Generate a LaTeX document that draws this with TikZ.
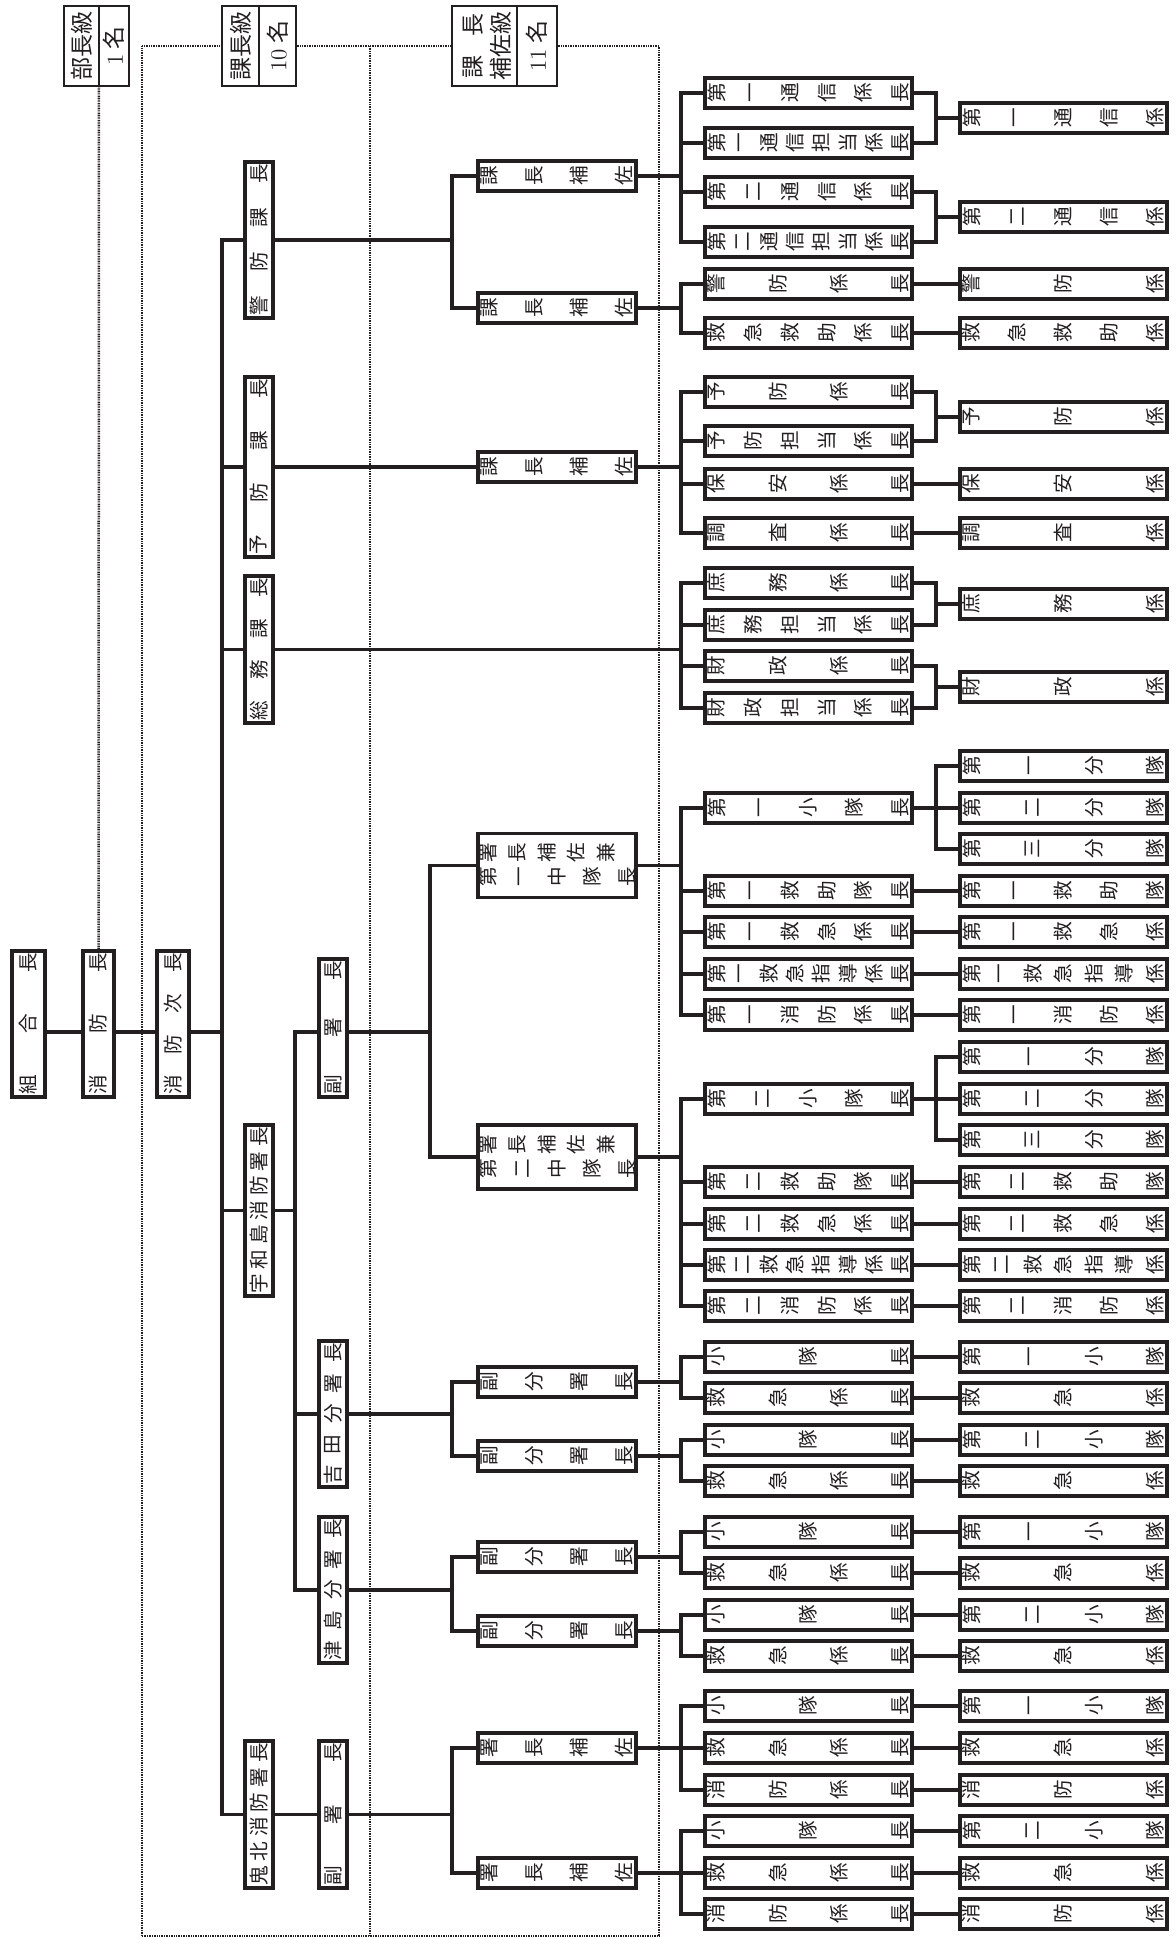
\documentclass[tikz,border=0pt]{standalone}
\usepackage{fontspec}
\newfontfamily\cjk{Noto Sans CJK JP}
\definecolor{ink}{RGB}{35,31,32}
\tikzset{
 bx/.style={draw=ink, line width=1.85pt, inner sep=0pt, fill=white},
 hb/.style={draw=ink, line width=0.75pt, inner sep=0pt, fill=white},
 hbl/.style={draw=ink, line width=0.75pt},
 ln/.style={draw=ink, line width=1.55pt, line cap=rect},
 dl/.style={draw=ink, line width=1.25pt, dash pattern=on 0.45pt off 0.4pt},
 chr/.style={inner sep=0pt, rotate=90, text=ink, font=\cjk\fontsize{9.8pt}{10pt}\selectfont},
 hch/.style={inner sep=0pt, rotate=90, text=ink, font=\cjk\fontsize{11.5pt}{12pt}\selectfont},
}
% wide box: name, x0, x1, yc, chars (left to right)
\newcommand\WB[5]{%
 \pgfmathsetmacro\wbw{(#3-#2-3.5)*0.5}%
 \node[bx, minimum width=\wbw pt, minimum height=15.3pt] (#1) at ({(#2+#3)/2},#4) {};%
 \foreach \ch [count=\ci] in {#5} {\xdef\nch{\ci}}%
 \foreach \ch [count=\ci] in {#5} {%
  \pgfmathsetmacro\cx{#2+13.5+(\ci-1)*(#3-#2-27.5)/(\nch-1)}%
  \node[chr] at (\cx,#4) {\ch};}%
}
% tall box: name, x0, x1, y0, y1, chars (bottom to top)
\newcommand\TB[6]{%
 \pgfmathsetmacro\tbw{(#3-#2-3.5)*0.5}\pgfmathsetmacro\tbh{(#5-#4-3.5)*0.5}%
 \node[bx, minimum width=\tbw pt, minimum height=\tbh pt] (#1) at ({(#2+#3)/2},{(#4+#5)/2}) {};%
 \foreach \ch [count=\ci] in {#6} {\xdef\nch{\ci}}%
 \foreach \ch [count=\ci] in {#6} {%
  \pgfmathsetmacro\cy{#5-14-(\ci-1)*(#5-#4-28)/(\nch-1)}%
  \node[chr] at ({(#2+#3)/2},\cy) {\ch};}%
}
\newcommand\LS[2]{\draw[ln] (#1.west) -- (#1.west -| #2);}
\newcommand\RS[2]{\draw[ln] (#1.east) -- (#1.east -| #2);}
\newcommand\LB[3]{\draw[ln] (#1.west -| #3) -- (#2.west -| #3);}
\newcommand\DR[2]{\draw[ln] (#1.east) -- (#1.east -| #2.west);}
\newcommand\MG[3]{\draw[ln] (#1.east) -- (#1.east -| b5) -- (#2.east -| b5) -- (#2.east); \draw[ln] (#3.west) -- (#3.west -| b5);}
\newcommand\SP[4]{\draw[ln] (#2.west) -- (#2.west -| b5) -- (#4.west -| b5) -- (#4.west); \draw[ln] (#1.east) -- (#1.east -| #3.west);}
\begin{document}
\begin{tikzpicture}[x=0.5pt,y=-0.5pt]
\useasboundingbox (0,0) rectangle (1175,1939);
\fill[white] (0,0) rectangle (1175,1939);
% bus coordinates
\coordinate (tx) at (222,0);
\coordinate (b2) at (295,0);
\coordinate (b3a) at (430,0);
\coordinate (b3) at (452,0);
\coordinate (b4) at (681,0);
\coordinate (b5) at (936,0);
\coordinate (ml) at (0,1032);
% dotted frame
\coordinate (fl) at (142,46);
\coordinate (fm) at (370,46);
\coordinate (fr) at (659,46);
\coordinate (gl) at (142,1936);
\coordinate (gm) at (370,1936);
\coordinate (gr) at (659,1936);
\coordinate (bdiv) at (99,86);
% header boxes
\node[hb, minimum width=32.5pt, minimum height=40pt] (bucho) at (96.5,46) {};
\node[hb, minimum width=37pt, minimum height=40pt] (kacho) at (259,46) {};
\node[hb, minimum width=52.5pt, minimum height=40pt] (hosa) at (504.5,46) {};
\draw[hbl] (bucho.north -| bdiv) -- (bdiv);
\draw[hbl] (kacho.north) -- (kacho.south);
\draw[hbl] (517,6) -- (517,86);
\node[hch] at (81.5,46) {部長級};
\node[hch] at (114,46) {{\rmfamily 1}\ 名};
\node[hch] at (240.5,46) {課長級};
\node[hch] at (277.5,46) {{\rmfamily 10}\ 名};
\node[hch] at (473,67) {課};
\node[hch] at (473,25) {長};
\node[hch] at (501,46) {補佐級};
\node[hch] at (537,46) {{\rmfamily 11}\ 名};
\draw[dl] (gl) -- (fl) -- (kacho.west);
\draw[dl] (kacho.east) -- (hosa.west);
\draw[dl] (hosa.east) -- (fr) -- (gr) -- (gl);
\draw[dl] (fm) -- (gm);
% column A
\TB{kumi}{10}{47}{949}{1099}{組,合,長}
\TB{shobo}{81}{116}{949}{1099}{消,防,長}
\TB{jicho}{155}{191}{949}{1099}{消,防,次,長}
\draw[dl] (bdiv) -- (shobo.north);
% column B
\TB{keibo}{243}{275}{160}{320}{警,防,課,長}
\TB{yobo}{243}{275}{375}{559}{予,防,課,長}
\TB{somu}{243}{275}{574}{725}{総,務,課,長}
\TB{uwa}{243}{275}{1123}{1298}{宇,和,島,消,防,署,長}
\TB{kihoku}{243}{275}{1739}{1890}{鬼,北,消,防,署,長}
% column C
\TB{fuku1}{317}{349}{957}{1099}{副,署,長}
\TB{yosh}{317}{349}{1339}{1489}{吉,田,分,署,長}
\TB{tsu}{317}{349}{1515}{1665}{津,島,分,署,長}
\TB{fuku2}{317}{349}{1739}{1890}{副,署,長}
% column D
\WB{kh1}{476}{638}{176}{課,長,補,佐}
\WB{kh2}{476}{638}{308}{課,長,補,佐}
\WB{kh3}{476}{638}{467}{課,長,補,佐}
\node[bx, minimum width=79.2pt, minimum height=32pt] (ch1) at (557,865.5) {};
\foreach \ch [count=\ci] in {署,長,補,佐,兼} {\node[chr] at ({488+(\ci-1)*29.5},853) {\ch};}
\foreach \ch [count=\ci] in {第,一,中,隊,長} {\node[chr] at ({488+(\ci-1)*34.75},877) {\ch};}
\node[bx, minimum width=79.2pt, minimum height=32pt] (ch2) at (557,1157) {};
\foreach \ch [count=\ci] in {署,長,補,佐,兼} {\node[chr] at ({488+(\ci-1)*29.5},1144.5) {\ch};}
\foreach \ch [count=\ci] in {第,二,中,隊,長} {\node[chr] at ({488+(\ci-1)*34.75},1168.5) {\ch};}
\WB{fb1}{476}{638}{1382}{副,分,署,長}
\WB{fb2}{476}{638}{1456}{副,分,署,長}
\WB{fb3}{476}{638}{1557}{副,分,署,長}
\WB{fb4}{476}{638}{1631}{副,分,署,長}
\WB{sh1}{476}{638}{1748}{署,長,補,佐}
\WB{sh2}{476}{638}{1873}{署,長,補,佐}
% column E
\WB{e1}{703}{914}{93}{第,一,通,信,係,長}
\WB{e2}{703}{914}{143}{第,一,通,信,担,当,係,長}
\WB{e3}{703}{914}{192}{第,二,通,信,係,長}
\WB{e4}{703}{914}{242}{第,二,通,信,担,当,係,長}
\WB{e5}{703}{914}{284}{警,防,係,長}
\WB{e6}{703}{914}{333}{救,急,救,助,係,長}
\WB{e7}{703}{914}{392}{予,防,係,長}
\WB{e8}{703}{914}{441}{予,防,担,当,係,長}
\WB{e9}{703}{914}{484}{保,安,係,長}
\WB{e10}{703}{914}{533}{調,査,係,長}
\WB{e11}{703}{914}{583}{庶,務,係,長}
\WB{e12}{703}{914}{625}{庶,務,担,当,係,長}
\WB{e13}{703}{914}{666}{財,政,係,長}
\WB{e14}{703}{914}{708}{財,政,担,当,係,長}
\WB{e15}{703}{914}{808}{第,一,小,隊,長}
\WB{e16}{703}{914}{891}{第,一,救,助,隊,長}
\WB{e17}{703}{914}{932}{第,一,救,急,係,長}
\WB{e18}{703}{914}{974}{第,一,救,急,指,導,係,長}
\WB{e19}{703}{914}{1015}{第,一,消,防,係,長}
\WB{e20}{703}{914}{1099}{第,二,小,隊,長}
\WB{e21}{703}{914}{1182}{第,二,救,助,隊,長}
\WB{e22}{703}{914}{1224}{第,二,救,急,係,長}
\WB{e23}{703}{914}{1265}{第,二,救,急,指,導,係,長}
\WB{e24}{703}{914}{1306}{第,二,消,防,係,長}
\WB{e25}{703}{914}{1357}{小,隊,長}
\WB{e26}{703}{914}{1398}{救,急,係,長}
\WB{e27}{703}{914}{1440}{小,隊,長}
\WB{e28}{703}{914}{1481}{救,急,係,長}
\WB{e29}{703}{914}{1532}{小,隊,長}
\WB{e30}{703}{914}{1573}{救,急,係,長}
\WB{e31}{703}{914}{1615}{小,隊,長}
\WB{e32}{703}{914}{1656}{救,急,係,長}
\WB{e33}{703}{914}{1706}{小,隊,長}
\WB{e34}{703}{914}{1748}{救,急,係,長}
\WB{e35}{703}{914}{1790}{消,防,係,長}
\WB{e36}{703}{914}{1831}{小,隊,長}
\WB{e37}{703}{914}{1873}{救,急,係,長}
\WB{e38}{703}{914}{1914}{消,防,係,長}
% column F
\WB{f1}{958}{1169}{118}{第,一,通,信,係}
\WB{f2}{958}{1169}{217}{第,二,通,信,係}
\WB{f3}{958}{1169}{284}{警,防,係}
\WB{f4}{958}{1169}{333}{救,急,救,助,係}
\WB{f5}{958}{1169}{417}{予,防,係}
\WB{f6}{958}{1169}{484}{保,安,係}
\WB{f7}{958}{1169}{533}{調,査,係}
\WB{f8}{958}{1169}{604}{庶,務,係}
\WB{f9}{958}{1169}{687}{財,政,係}
\WB{f10}{958}{1169}{766}{第,一,分,隊}
\WB{f11}{958}{1169}{808}{第,二,分,隊}
\WB{f12}{958}{1169}{849}{第,三,分,隊}
\WB{f13}{958}{1169}{891}{第,一,救,助,隊}
\WB{f14}{958}{1169}{932}{第,一,救,急,係}
\WB{f15}{958}{1169}{974}{第,一,救,急,指,導,係}
\WB{f16}{958}{1169}{1015}{第,一,消,防,係}
\WB{f17}{958}{1169}{1057}{第,一,分,隊}
\WB{f18}{958}{1169}{1099}{第,二,分,隊}
\WB{f19}{958}{1169}{1140}{第,三,分,隊}
\WB{f20}{958}{1169}{1182}{第,二,救,助,隊}
\WB{f21}{958}{1169}{1224}{第,二,救,急,係}
\WB{f22}{958}{1169}{1265}{第,二,救,急,指,導,係}
\WB{f23}{958}{1169}{1306}{第,二,消,防,係}
\WB{f24}{958}{1169}{1357}{第,一,小,隊}
\WB{f25}{958}{1169}{1398}{救,急,係}
\WB{f26}{958}{1169}{1440}{第,二,小,隊}
\WB{f27}{958}{1169}{1481}{救,急,係}
\WB{f28}{958}{1169}{1532}{第,一,小,隊}
\WB{f29}{958}{1169}{1573}{救,急,係}
\WB{f30}{958}{1169}{1615}{第,二,小,隊}
\WB{f31}{958}{1169}{1656}{救,急,係}
\WB{f32}{958}{1169}{1706}{第,一,小,隊}
\WB{f33}{958}{1169}{1748}{救,急,係}
\WB{f34}{958}{1169}{1790}{消,防,係}
\WB{f35}{958}{1169}{1831}{第,二,小,隊}
\WB{f36}{958}{1169}{1873}{救,急,係}
\WB{f37}{958}{1169}{1914}{消,防,係}
% ---- connectors ----
\draw[ln] (kumi.east |- ml) -- (shobo.west |- ml);
\draw[ln] (shobo.east |- ml) -- (jicho.west |- ml);
\draw[ln] (jicho.east |- ml) -- (ml -| tx);
\draw[ln] (keibo.west) -- (keibo.west -| tx) -- (kihoku.west -| tx) -- (kihoku.west);
\LS{yobo}{tx} \LS{somu}{tx} \LS{uwa}{tx}
% B -> C/D
\RS{keibo}{b3} \draw[ln] (kh1.west) -- (kh1.west -| b3) -- (kh2.west -| b3) -- (kh2.west);
\draw[ln] (yobo.east) -- (yobo.east -| kh3.west);
\RS{somu}{b4}
\RS{uwa}{b2}
\draw[ln] (fuku1.west |- ml) -- (ml -| b2) -- (tsu.west -| b2) -- (tsu.west);
\LS{yosh}{b2}
\draw[ln] (fuku1.east |- ml) -- (ml -| b3a);
\draw[ln] (ch1.west) -- (ch1.west -| b3a) -- (ch2.west -| b3a) -- (ch2.west);
\RS{yosh}{b3} \draw[ln] (fb1.west) -- (fb1.west -| b3) -- (fb2.west -| b3) -- (fb2.west);
\RS{tsu}{b3} \draw[ln] (fb3.west) -- (fb3.west -| b3) -- (fb4.west -| b3) -- (fb4.west);
\draw[ln] (kihoku.east) -- (kihoku.east -| fuku2.west);
\RS{fuku2}{b3} \draw[ln] (sh1.west) -- (sh1.west -| b3) -- (sh2.west -| b3) -- (sh2.west);
% D -> E
\RS{kh1}{b4} \LB{e1}{e4}{b4} \LS{e1}{b4} \LS{e2}{b4} \LS{e3}{b4} \LS{e4}{b4}
\RS{kh2}{b4} \LB{e5}{e6}{b4} \LS{e5}{b4} \LS{e6}{b4}
\RS{kh3}{b4} \LB{e7}{e10}{b4} \LS{e7}{b4} \LS{e8}{b4} \LS{e9}{b4} \LS{e10}{b4}
\LB{e11}{e14}{b4} \LS{e11}{b4} \LS{e12}{b4} \LS{e13}{b4} \LS{e14}{b4}
\RS{ch1}{b4} \LB{e15}{e19}{b4} \LS{e15}{b4} \LS{e16}{b4} \LS{e17}{b4} \LS{e18}{b4} \LS{e19}{b4}
\RS{ch2}{b4} \LB{e20}{e24}{b4} \LS{e20}{b4} \LS{e21}{b4} \LS{e22}{b4} \LS{e23}{b4} \LS{e24}{b4}
\RS{fb1}{b4} \LB{e25}{e26}{b4} \LS{e25}{b4} \LS{e26}{b4}
\RS{fb2}{b4} \LB{e27}{e28}{b4} \LS{e27}{b4} \LS{e28}{b4}
\RS{fb3}{b4} \LB{e29}{e30}{b4} \LS{e29}{b4} \LS{e30}{b4}
\RS{fb4}{b4} \LB{e31}{e32}{b4} \LS{e31}{b4} \LS{e32}{b4}
\RS{sh1}{b4} \LB{e33}{e35}{b4} \LS{e33}{b4} \LS{e34}{b4} \LS{e35}{b4}
\RS{sh2}{b4} \LB{e36}{e38}{b4} \LS{e36}{b4} \LS{e37}{b4} \LS{e38}{b4}
% E -> F
\MG{e1}{e2}{f1} \MG{e3}{e4}{f2}
\DR{e5}{f3} \DR{e6}{f4}
\MG{e7}{e8}{f5} \DR{e9}{f6} \DR{e10}{f7}
\MG{e11}{e12}{f8} \MG{e13}{e14}{f9}
\SP{e15}{f10}{f11}{f12}
\DR{e16}{f13} \DR{e17}{f14} \DR{e18}{f15} \DR{e19}{f16}
\SP{e20}{f17}{f18}{f19}
\DR{e21}{f20} \DR{e22}{f21} \DR{e23}{f22} \DR{e24}{f23}
\DR{e25}{f24} \DR{e26}{f25} \DR{e27}{f26} \DR{e28}{f27}
\DR{e29}{f28} \DR{e30}{f29} \DR{e31}{f30} \DR{e32}{f31}
\DR{e33}{f32} \DR{e34}{f33} \DR{e35}{f34}
\DR{e36}{f35} \DR{e37}{f36} \DR{e38}{f37}
\end{tikzpicture}
\end{document}
